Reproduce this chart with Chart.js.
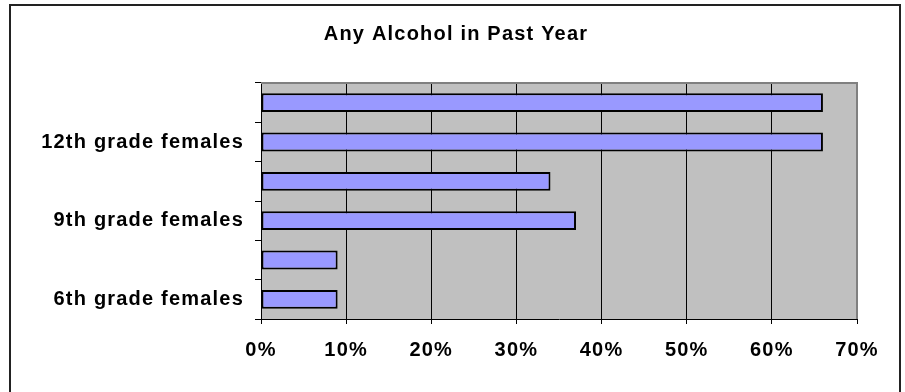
<!DOCTYPE html>
<html>
<head>
<meta charset="utf-8">
<script src="https://cdn.jsdelivr.net/npm/chart.js@4.4.1/dist/chart.umd.min.js"></script>
<style>
    html, body { margin: 0; padding: 0; background: #fff; }
</style>
</head>
<body>
<canvas id="alcool" width="905" height="392"></canvas>
<script>
// data (top bar first)
const grupos = ['12th grade males', '12th grade females', '9th grade males', '9th grade females', '6th grade males', '6th grade females'];
const valores = [66, 66, 34, 37, 9, 9];
const ticksX = [0, 10, 20, 30, 40, 50, 60, 70];
const titulo = 'Any Alcohol in Past Year';

const fonte = "'Liberation Sans', Arial, sans-serif";

// white page, gray plot area, outer frame, title
const moldura = {
    id: 'moldura',
    beforeDraw(chart) {
        const { ctx, chartArea: a } = chart;
        ctx.letterSpacing = '1.2px';
        ctx.save();
        ctx.fillStyle = '#ffffff';
        ctx.fillRect(0, 0, chart.width, chart.height);
        ctx.fillStyle = '#c0c0c0';
        ctx.fillRect(a.left, a.top, a.right - a.left, a.bottom - a.top);
        ctx.strokeStyle = '#222222';
        ctx.lineWidth = 2;
        ctx.strokeRect(10, 5, 890, 420);
        ctx.restore();
    },
    afterDraw(chart) {
        const { ctx, chartArea: a } = chart;
        ctx.save();
        ctx.strokeStyle = '#808080';
        ctx.lineWidth = 2;
        ctx.beginPath();
        ctx.moveTo(a.left, a.top);
        ctx.lineTo(a.right, a.top);
        ctx.lineTo(a.right, a.bottom);
        ctx.stroke();

        ctx.fillStyle = '#000';
        ctx.font = 'bold 20px ' + fonte;
        ctx.textAlign = 'center';
        ctx.textBaseline = 'middle';
        ctx.fillText(titulo, 456, 34);
        ctx.restore();
    }
};

new Chart(document.getElementById('alcool'), {
    type: 'bar',
    data: {
        labels: grupos,
        datasets: [{
            data: valores,
            backgroundColor: '#9999ff',
            borderColor: '#000000',
            borderWidth: 2,
            borderSkipped: false,
            barPercentage: 0.48,
            categoryPercentage: 1
        }]
    },
    options: {
        indexAxis: 'y',
        responsive: false,
        animation: false,
        layout: {
            padding: { left: 9, right: 48, top: 83, bottom: 0 }
        },
        plugins: {
            legend: { display: false },
            tooltip: { enabled: false },
            title: { display: false }
        },
        scales: {
            x: {
                min: 0,
                max: 70,
                afterBuildTicks: s => { s.ticks = ticksX.map(v => ({ value: v })); },
                afterFit: s => { s.height = 73; },
                grid: {
                    color: '#000',
                    lineWidth: 1,
                    tickLength: 5
                },
                border: { color: '#000', width: 1 },
                ticks: {
                    color: '#000',
                    padding: 14,
                    font: { family: fonte, size: 20, weight: 'bold' },
                    callback: v => v + '%'
                }
            },
            y: {
                afterFit: s => { s.width = 252; },
                grid: {
                    offset: true,
                    drawOnChartArea: false,
                    color: '#000',
                    tickLength: 6
                },
                border: { color: '#000', width: 1 },
                ticks: {
                    autoSkip: false,
                    color: '#000',
                    padding: 11,
                    font: { family: fonte, size: 20, weight: 'bold' },
                    callback: function (v, i) {
                        return i % 2 === 1 ? this.getLabelForValue(v) : '';
                    }
                }
            }
        }
    },
    plugins: [moldura]
});
</script>
</body>
</html>
